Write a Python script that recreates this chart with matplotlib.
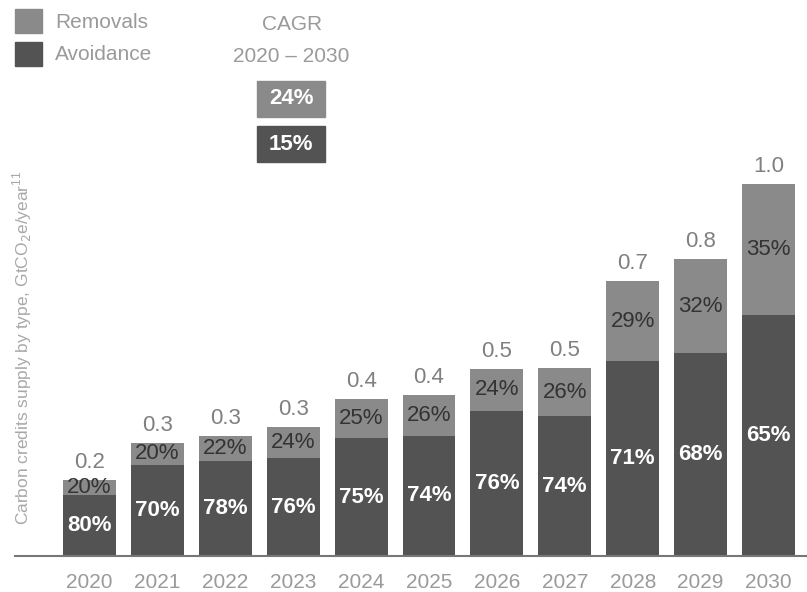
import matplotlib.pyplot as plt
from matplotlib.patches import Rectangle

years = ["2020", "2021", "2022", "2023", "2024", "2025", "2026", "2027", "2028", "2029", "2030"]
avoidance = [0.164, 0.245, 0.255, 0.263, 0.317, 0.323, 0.390, 0.376, 0.524, 0.546, 0.648]
removals = [0.040, 0.059, 0.068, 0.084, 0.105, 0.110, 0.113, 0.129, 0.215, 0.252, 0.352]
total_labels = ["0.2", "0.3", "0.3", "0.3", "0.4", "0.4", "0.5", "0.5", "0.7", "0.8", "1.0"]
avoid_pct = ["80%", "70%", "78%", "76%", "75%", "74%", "76%", "74%", "71%", "68%", "65%"]
removal_pct = ["20%", "20%", "22%", "24%", "25%", "26%", "24%", "26%", "29%", "32%", "35%"]
cagr = {"Removals": "24%", "Avoidance": "15%"}

C_REM = "#8a8a8a"
C_AVO = "#535353"
C_TXT = "#9a9a9a"

plt.rcParams["font.family"] = ["Liberation Sans", "DejaVu Sans"]

W, H = 807, 592
fig = plt.figure(figsize=(W / 100, H / 100), dpi=100)


def fx(px):
    return px / W


def fy(py):
    return 1 - py / H


ax = fig.add_axes([fx(15), fy(556), fx(792), 556 / H])
x = list(range(len(years)))
ax.bar(x, avoidance, width=0.78, color=C_AVO)
ax.bar(x, removals, width=0.78, bottom=avoidance, color=C_REM)

for i in x:
    a, r = avoidance[i], removals[i]
    ax.text(i, a / 2, avoid_pct[i], ha="center", va="center",
            color="white", fontsize=16, fontweight="bold")
    ax.text(i, a + r / 2, removal_pct[i], ha="center", va="center",
            color="#333333", fontsize=16)
    ax.annotate(total_labels[i], (i, a + r), xytext=(0, 5),
                textcoords="offset points", ha="center", va="bottom",
                color="#808080", fontsize=16)

ax.set_xlim(-1.097, 10.567)
ax.set_ylim(0, 1.495)
ax.set_xticks(x)
ax.set_xticklabels(years, fontsize=15, color=C_TXT)
ax.tick_params(axis="x", length=0, pad=12)
ax.set_yticks([])
for s in ["top", "right", "left"]:
    ax.spines[s].set_visible(False)
ax.spines["bottom"].set_color("#777777")
ax.spines["bottom"].set_linewidth(1.5)

fig.text(fx(22), fy(348), "Carbon credits supply by type, GtCO$_2$e/year$^{\\mathregular{11}}$",
         rotation=90, ha="center", va="center", color="#a8a8a8", fontsize=12.5)

# legend
for (label, color), top in zip([("Removals", C_REM), ("Avoidance", C_AVO)], [9, 42]):
    fig.add_artist(Rectangle((fx(15), fy(top + 24)), fx(27), 24 / H,
                             transform=fig.transFigure, color=color))
    fig.text(fx(55), fy(top + 13), label, ha="left", va="center",
             color=C_TXT, fontsize=15)

# CAGR boxes
fig.text(fx(292), fy(24), "CAGR", ha="center", va="center", color=C_TXT, fontsize=15)
fig.text(fx(291), fy(57), "2020 – 2030", ha="center", va="center", color=C_TXT, fontsize=15)
for (label, color), top in zip([("Removals", C_REM), ("Avoidance", C_AVO)], [81, 126]):
    fig.add_artist(Rectangle((fx(257), fy(top + 36)), fx(68), 36 / H,
                             transform=fig.transFigure, color=color))
    fig.text(fx(291), fy(top + 18), cagr[label], ha="center", va="center",
             color="white", fontsize=16, fontweight="bold")

fig.savefig("out.png", dpi=100)
